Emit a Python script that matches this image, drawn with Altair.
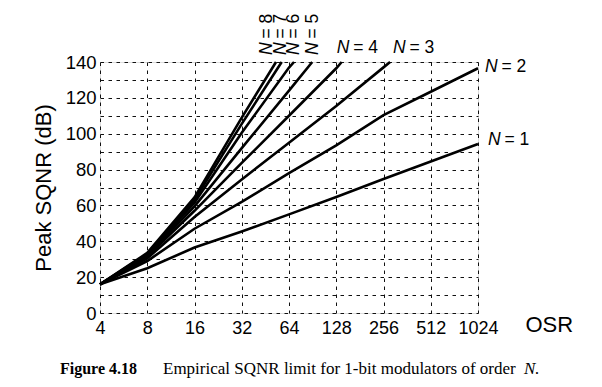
import altair as alt
import pandas as pd

# ---- data ----
osr_n1 = [4, 8, 16, 32, 64, 128, 256, 512, 1024]
sqnr_n1 = [16, 25, 36.5, 45.5, 55, 64.7, 74.7, 84.5, 94.3]
osr_n2 = [4, 8, 16, 32, 64, 128, 256, 512, 1024]
sqnr_n2 = [16, 29, 47, 62, 78, 93.5, 110.4, 123.4, 136.5]
osr_n3 = [4, 8, 16, 32, 64, 128, 256, 282]
sqnr_n3 = [16, 30.5, 53.5, 74.5, 95, 115.5, 137, 140]
osr_n4 = [4, 8, 16, 32, 64, 128, 138.6]
sqnr_n4 = [16, 31.5, 57, 83.7, 110, 136.5, 140]
osr_n5 = [4, 8, 16, 32, 64, 90]
sqnr_n5 = [16, 32, 59.5, 92, 124, 140]
osr_n6 = [4, 8, 16, 32, 64, 68.9]
sqnr_n6 = [16, 32.5, 61.5, 100.5, 136.9, 140]
osr_n7 = [4, 8, 16, 32, 57.5]
sqnr_n7 = [16, 33, 63, 105.5, 140]
osr_n8 = [4, 8, 16, 32, 52.9]
sqnr_n8 = [16, 33.5, 64.5, 109, 140]

x_ticks = [4, 8, 16, 32, 64, 128, 256, 512, 1024]
y_ticks = list(range(0, 141, 10))

# curve labels
lab_eq = ["= 8", "= 7", "= 6", "= 5", "= 4", "= 3", "= 2", "= 1"]
lab_osr = [46.1, 56.5, 69.2, 91.4, 128.9, 294, 1135, 1186]
lab_db = [143.9, 143.9, 143.9, 143.9, 147.6, 147.6, 137.4, 96.3]
lab_angle = [270, 270, 270, 270, 0, 0, 0, 0]

caption_bold = "Figure 4.18"
caption_text = "Empirical SQNR limit for 1-bit modulators of order"
caption_ital = "N."

# ---- build tables ----
series = [
    (1, osr_n1, sqnr_n1), (2, osr_n2, sqnr_n2), (3, osr_n3, sqnr_n3),
    (4, osr_n4, sqnr_n4), (5, osr_n5, sqnr_n5), (6, osr_n6, sqnr_n6),
    (7, osr_n7, sqnr_n7), (8, osr_n8, sqnr_n8),
]
rows = []
for n, xs, ys in series:
    for i, (a, b) in enumerate(zip(xs, ys)):
        rows.append({"order": n, "osr": a, "sqnr": b, "i": i})
df = pd.DataFrame(rows)

labels = pd.DataFrame({"n": ["N"] * len(lab_eq), "eq": lab_eq, "osr": lab_osr,
                       "db": lab_db, "angle": lab_angle})

SANS = "Liberation Sans"
SERIF = "Liberation Serif"

xscale = alt.Scale(type="log", base=2, domain=[4, 1024], nice=False)
yscale = alt.Scale(domain=[0, 140], nice=False)

lines = alt.Chart(df).mark_line(color="black", strokeWidth=2.6).encode(
    x=alt.X("osr:Q", scale=xscale,
            axis=alt.Axis(values=x_ticks, tickCount=20, format="d", title="OSR",
                          grid=True, gridColor="#111", gridDash=[3.5, 4.5],
                          gridWidth=1, ticks=False, domain=False,
                          labelFont=SANS, labelFontSize=18, labelColor="black",
                          labelPadding=6, labelFlush=False, labelOverlap=False,
                          titleFont=SANS, titleFontSize=22, titleFontWeight="normal",
                          titleColor="black", titleX=425, titleY=18.7,
                          titleAlign="left", titleBaseline="alphabetic",
                          titleAngle=0)),
    y=alt.Y("sqnr:Q", scale=yscale,
            axis=alt.Axis(values=y_ticks, tickCount=20,
                          labelExpr="datum.value % 20 == 0 ? datum.label : ''",
                          title="Peak SQNR (dB)",
                          grid=True, gridColor="#111", gridDash=[3.5, 4.5],
                          gridWidth=1, ticks=False, domain=False,
                          labelFont=SANS, labelFontSize=18.5, labelColor="black",
                          labelPadding=4, labelOverlap=False, labelFlush=False,
                          titleFont=SANS, titleFontSize=22, titleFontWeight="normal",
                          titleColor="black", titleX=-50, titleY=125.5,
                          titleAlign="center", titleBaseline="alphabetic",
                          titleAngle=270)),
    detail="order:N",
    order="i:Q",
)

lab_n = alt.Chart(labels).mark_text(
    font=SANS, fontSize=17.5, fontStyle="italic", align="left",
    baseline="middle", color="black"
).encode(
    x=alt.X("osr:Q", scale=xscale),
    y=alt.Y("db:Q", scale=yscale),
    text="n:N",
    angle=alt.Angle("angle:Q", scale=None),
)

lab_eqs = alt.Chart(labels).mark_text(
    font=SANS, fontSize=17.5, align="left", baseline="middle", color="black",
    dx=16.5
).encode(
    x=alt.X("osr:Q", scale=xscale),
    y=alt.Y("db:Q", scale=yscale),
    text="eq:N",
    angle=alt.Angle("angle:Q", scale=None),
)

cap1 = alt.Chart(pd.DataFrame({"t": [caption_bold]})).mark_text(
    font=SERIF, fontSize=16, fontWeight="bold", align="left",
    baseline="alphabetic", color="black"
).encode(x=alt.value(-40), y=alt.value(312), text="t:N")

cap2 = alt.Chart(pd.DataFrame({"t": [caption_text]})).mark_text(
    font=SERIF, fontSize=17, align="left", baseline="alphabetic", color="black"
).encode(x=alt.value(63), y=alt.value(312), text="t:N")

cap3 = alt.Chart(pd.DataFrame({"t": [caption_ital]})).mark_text(
    font=SERIF, fontSize=17, fontStyle="italic", align="left",
    baseline="alphabetic", color="black"
).encode(x=alt.value(424), y=alt.value(312), text="t:N")

chart = alt.layer(lines, lab_n, lab_eqs, cap1, cap2, cap3).properties(
    width=378, height=251,
    autosize=alt.AutoSizeParams(type="none"),
    padding={"left": 92, "top": 54, "right": 108, "bottom": 65},
).configure_view(
    stroke="black", strokeWidth=2
).configure(background="white")

chart.save("out.html", embed_options={"renderer": "svg", "actions": False})
